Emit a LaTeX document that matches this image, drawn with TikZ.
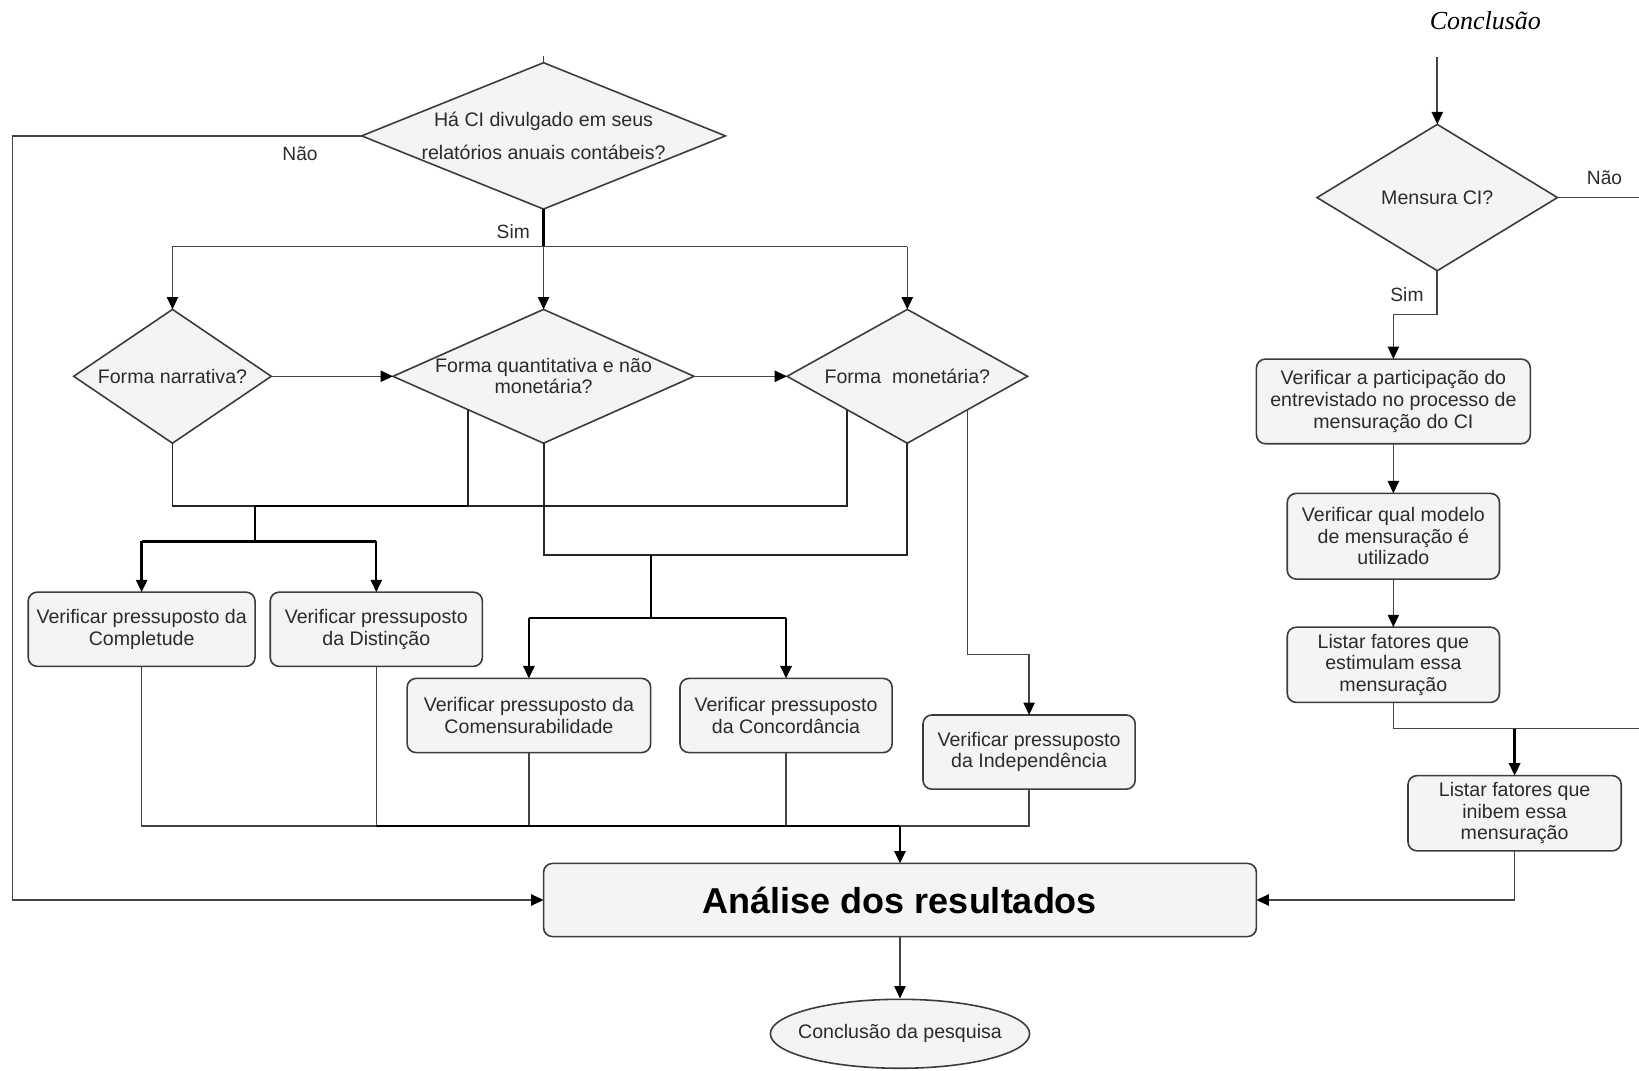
\documentclass[tikz,border=0pt]{standalone}
\usepackage{fontspec}
\setmainfont{Liberation Sans}
\newfontfamily\titleserif{Liberation Serif}
\usetikzlibrary{shapes.geometric,arrows.meta,calc}
\definecolor{boxfill}{HTML}{F4F4F4}
\definecolor{boxline}{HTML}{3C3C3C}
\definecolor{ink}{HTML}{2B2B2B}
\definecolor{wire}{HTML}{444444}
\begin{document}
\begin{tikzpicture}[
  x=0.5227pt, y=-0.5227pt,
  every node/.style={text=ink},
  txt/.style={font=\fontsize{9.8pt}{10.6pt}\selectfont, align=center, inner sep=0pt},
  proc/.style 2 args={rectangle, rounded corners=4.5pt, draw=boxline, fill=boxfill,
    line width=0.8pt, inner sep=0pt, outer sep=0pt, align=center,
    minimum width=#1*0.5227pt, minimum height=#2*0.5227pt,
    font=\fontsize{9.8pt}{10.8pt}\selectfont},
  decision/.style 2 args={diamond, draw=boxline, fill=boxfill, line width=0.8pt,
    inner sep=0pt, outer sep=0pt,
    minimum width=#1*0.5227pt, minimum height=#2*0.5227pt},
  lab/.style={font=\fontsize{9.6pt}{10pt}\selectfont, inner sep=0pt},
  thinw/.style={draw=wire, line width=0.8pt},
  midw/.style={draw=black!85, line width=0.95pt},
  heavyw/.style={draw=black, line width=1.15pt},
  tip/.style={-{Triangle[length=6.2pt,width=5.6pt,color=black]}},
]
\useasboundingbox (0,0) rectangle (1568,1024);

% ---------- heading of the right-hand column
\node[font=\titleserif\itshape\fontsize{13pt}{15pt}\selectfont, text=black] (concl) at (1421,20) {Conclusão};

% ---------- decisions of the left-hand flow
\node[decision={348}{140}] (d1) at (520,130) {};
\node[txt, font=\fontsize{9.8pt}{16.7pt}\selectfont] (d1t) at (520,130) {Há CI divulgado em seus\\relatórios anuais contábeis?};
\node[decision={189}{128}] (d2) at (165,360) {};
\node[txt] (d2t) at (d2) {Forma narrativa?};
\node[decision={288}{128}] (d3) at (520,360) {};
\node[txt, font=\fontsize{9.8pt}{10.5pt}\selectfont] (d3t) at (520,360) {Forma quantitativa e não\\monetária?};
\node[decision={230}{128}] (d4) at (868,360) {};
\node[txt] (d4t) at (d4) {Forma~ monetária?};

% ---------- checks of the assumptions
\node[proc={217}{71}] (b1) at (135.5,602) {Verificar pressuposto da\\Completude};
\node[proc={203}{71}] (b2) at (360,602) {Verificar pressuposto\\da Distinção};
\node[proc={233}{71}] (b3) at (506,684.5) {Verificar pressuposto da\\Comensurabilidade};
\node[proc={203}{71}] (b4) at (752,684.5) {Verificar pressuposto\\da Concordância};
\node[proc={203}{71}] (b5) at (984.5,719.5) {Verificar pressuposto\\da Independência};

% ---------- analysis and end
\node[proc={682}{70}, font=\bfseries\fontsize{18pt}{20pt}\selectfont, text=black] (ana) at (861,861) {Análise dos resultados};
\node[ellipse, draw=boxline, fill=boxfill, line width=0.8pt, inner sep=0pt,
  minimum width=248*0.5227pt, minimum height=66*0.5227pt] (end) at (861,989) {};
\node[txt] (endt) at (end) {Conclusão da pesquisa};

% ---------- right-hand column
\node[decision={230}{140}] (d5) at (1375,189) {};
\node[txt] (d5t) at (d5) {Mensura CI?};
\node[proc={262}{81}] (r1) at (1333,384) {Verificar a participação do\\entrevistado no processo de\\mensuração do CI};
\node[proc={203}{82}] (r2) at (1333,513) {Verificar qual modelo\\de mensuração é\\utilizado};
\node[proc={203}{72}] (r3) at (1333,636) {Listar fatores que\\estimulam essa\\mensuração};
\node[proc={204}{72}] (r4) at (1449,778) {Listar fatores que\\inibem essa\\mensuração};

% ---------- connectors: first question
\coordinate (d1in) at (520,54);
\draw[thinw] (d1in) -- (d1.north);
\coordinate (noL) at ($(ana.west)+(-508,0)$);
\draw[thinw, tip] (d1.west) -| (noL) -- (ana.west);
\node[lab] (nao1) at (287,147) {Não};
\draw[heavyw] (d1.south) -- ++(0,36) coordinate (sj);
\node[lab] (sim1) at (491,222) {Sim};
\draw[thinw] (d2.north |- sj) -- (d4.north |- sj);
\draw[thinw, tip] (d2.north |- sj) -- (d2.north);
\draw[thinw, tip] (sj) -- (d3.north);
\draw[thinw, tip] (d4.north |- sj) -- (d4.north);
\draw[thinw, tip] (d2.east) -- (d3.west);
\draw[thinw, tip] (d3.east) -- (d4.west);

% ---------- connectors: forms to assumptions
\coordinate (q3) at ($(d3.west)!0.5!(d3.south)$);
\coordinate (q4) at ($(d4.west)!0.5!(d4.south)$);
\coordinate (q5) at ($(d4.east)!0.5!(d4.south)$);
\coordinate (ja) at (244,484);
\coordinate (jb) at (244,518);
\draw[midw] (d2.south) |- (ja);
\draw[midw] (q3) -- (q3 |- ja) -- (q4 |- ja) -- (q4);
\draw[heavyw] (ja) -- (q3 |- ja);
\draw[heavyw] (ja) -- (jb);
\draw[heavyw] (b1.north |- jb) -- (b2.north |- jb);
\draw[heavyw, tip] (b1.north |- jb) -- (b1.north);
\draw[heavyw, tip] (b2.north |- jb) -- (b2.north);

\coordinate (ka) at (623,531);
\coordinate (kb) at (623,591);
\draw[midw] (d3.south) -- (d3.south |- ka) -- (d4.south |- ka) -- (d4.south);
\draw[heavyw] (ka) -- (kb);
\draw[heavyw] (b3.north |- kb) -- (b4.north |- kb);
\draw[heavyw, tip] (b3.north |- kb) -- (b3.north);
\draw[heavyw, tip] (b4.north |- kb) -- (b4.north);

\path (b5.north) ++(0,-58) coordinate (ma);
\draw[thinw, tip] (q5) |- (ma) -- (b5.north);

% ---------- connectors: assumptions to analysis
\coordinate (bj) at ($(ana.north)+(0,-36)$);
\draw[thinw] (b1.south) -- (b1.south |- bj) -- (b5.south |- bj) -- (b5.south);
\draw[thinw] (b2.south) -- (b2.south |- bj);
\draw[thinw] (b3.south) -- (b3.south |- bj);
\draw[thinw] (b4.south) -- (b4.south |- bj);
\draw[heavyw] (b2.south |- bj) -- (bj);
\draw[heavyw, tip] (bj) -- (ana.north);
\draw[thinw, tip] (ana.south) -- (end.north);

% ---------- connectors: right-hand column
\coordinate (rtop) at (1375,55);
\draw[thinw, tip] (rtop) -- (d5.north);
\coordinate (noR) at (1568,189);
\draw[thinw] (d5.east) -- (noR);
\node[lab] (nao2) at (1535,170) {Não};
\draw[thinw, tip] (d5.south) -- ++(0,42) -| (r1.north);
\node[lab] (sim2) at (1346,282) {Sim};
\draw[thinw, tip] (r1.south) -- (r2.north);
\draw[thinw, tip] (r2.south) -- (r3.north);
\coordinate (rOut) at (1568,697);
\draw[thinw] (r3.south) |- (rOut);
\draw[heavyw, tip] (r4.north |- rOut) -- (r4.north);
\draw[thinw, tip] (r4.south) |- (ana.east);
\end{tikzpicture}
\end{document}
